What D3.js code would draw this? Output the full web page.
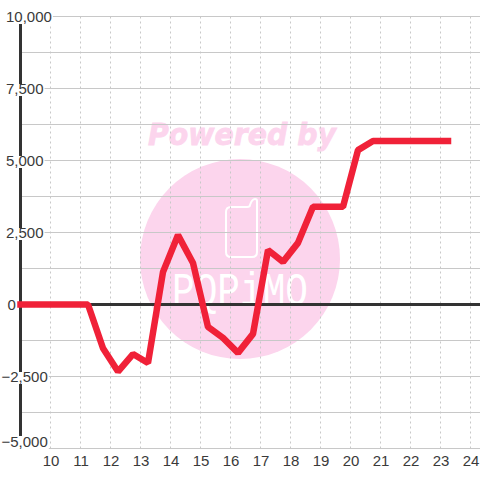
<!DOCTYPE html>
<html><head><meta charset="utf-8">
<script src="https://cdn.jsdelivr.net/npm/d3@7/dist/d3.min.js"></script>
<style>html,body{margin:0;padding:0;background:#fff}svg{display:block}</style>
</head><body><svg id="c" width="480" height="480"></svg>
<script>
const hours=[9,9.75,10.25,10.75,11.25,11.75,12.25,12.75,13.25,13.75,14.25,14.75,15.25,15.75,16.25,16.75,17.25,17.75,18.25,18.75,19.25,19.75,20.25,20.75,21.25,21.75,22.25,22.75,23.25];
const values=[0,0,0,0,0,-1520,-2330,-1720,-2030,1130,2410,1440,-780,-1160,-1680,-1020,1890,1480,2140,3390,3390,3390,5360,5680,5680,5680,5680,5680,5680];
const xTicks=[10,11,12,13,14,15,16,17,18,19,20,21,22,23,24];
const yLabelTicks=[10000,7500,5000,2500,0,-2500,-5000];
const yGridTicks=[10000,8750,7500,6250,5000,3750,2500,1250,0,-1250,-2500,-3750,-5000];

const svg=d3.select("#c");
const x=d3.scaleLinear().domain([9,24]).range([20.5,470.5]);
const y=d3.scaleLinear().domain([-5000,10000]).range([448.5,16.5]);
const font="'Liberation Sans',Arial,sans-serif";
const fmt=d3.format(",");

// watermark
const wm=svg.append("g");
wm.append("circle").attr("cx",240).attr("cy",259).attr("r",100).attr("fill","#fcd5ed");
wm.append("text").attr("x",148).attr("y",145)
  .attr("font-family","'DejaVu Sans'").attr("font-weight","bold").attr("font-style","italic")
  .attr("font-size",31).attr("textLength",188).attr("lengthAdjust","spacingAndGlyphs")
  .attr("fill","#fcd5ed").attr("stroke","#fcd5ed").attr("stroke-width",0.8).text("Powered by");
wm.append("path").attr("d","M231 207H247Q250 207 250 205Q252 199 255 199Q257 199 257 201V252Q257 257 252 257H231Q226 257 226 252V212Q226 207 231 207Z")
  .attr("fill","none").attr("stroke","#fff").attr("stroke-width",2);
wm.append("text").attr("x",172).attr("y",305)
  .attr("font-family","'Liberation Mono'").attr("font-size",46).attr("textLength",136).attr("lengthAdjust","spacingAndGlyphs")
  .attr("fill","#fff").text("PQPiMO");

// grid
svg.append("g").selectAll("line").data(yGridTicks).join("line")
  .attr("x1",20).attr("x2",480).attr("y1",d=>y(d)).attr("y2",d=>y(d))
  .attr("stroke","#c8c8c8").attr("stroke-width",1);
svg.append("g").selectAll("line").data(xTicks).join("line")
  .attr("x1",d=>x(d)).attr("x2",d=>x(d)).attr("y1",y(10000)).attr("y2",y(-5000))
  .attr("stroke","#c8c8c8").attr("stroke-width",1).attr("stroke-dasharray","2,3");

// axes
svg.append("line").attr("x1",20.5).attr("x2",20.5).attr("y1",24).attr("y2",436)
  .attr("stroke","#333").attr("stroke-width",3);
svg.append("line").attr("x1",20).attr("x2",480).attr("y1",y(0)).attr("y2",y(0))
  .attr("stroke","#333").attr("stroke-width",3);

// y labels on a white plate
const yl=svg.append("g").selectAll("g").data(yLabelTicks).join("g")
  .attr("transform",d=>`translate(${d<0?1.5:(d===0?7.5:6)},${y(d)+(d===-5000?-1.5:5.5)})`);
const plate=yl.append("rect").attr("y",-10).attr("height",12).attr("x",-1).attr("fill","#fff");
const labels=yl.append("text").attr("font-family",font).attr("font-size",15).attr("fill","#3a3a3a").text(d=>fmt(d));
plate.attr("width",(d,i)=>labels.nodes()[i].getComputedTextLength()+2);

// x labels
svg.append("g").selectAll("text").data(xTicks).join("text")
  .attr("x",d=>x(d)+0.5).attr("y",466).attr("text-anchor","middle")
  .attr("font-family",font).attr("font-size",15).attr("fill","#3a3a3a").text(d=>d);

// series
const line=d3.line().x((d,i)=>x(hours[i])).y(d=>y(d));
svg.append("path").datum(values).attr("d",line).attr("fill","none")
  .attr("stroke","#f02138").attr("stroke-width",6.5).attr("stroke-linecap","square").attr("stroke-linejoin","bevel");
</script></body></html>
